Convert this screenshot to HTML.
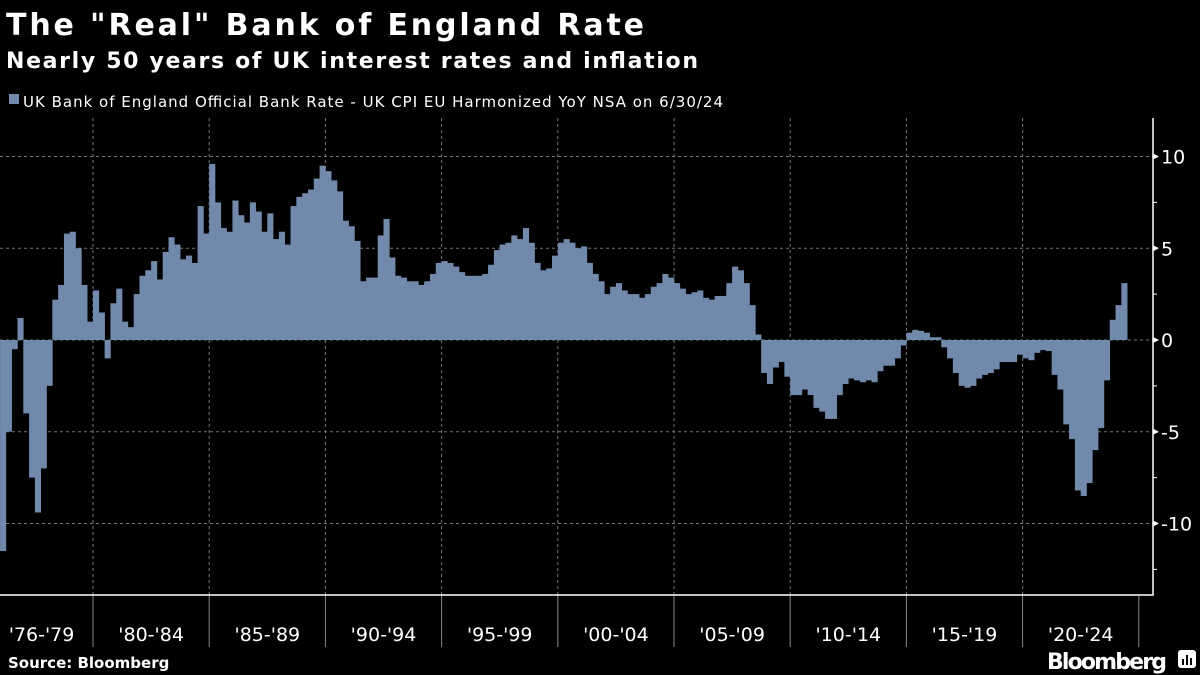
<!DOCTYPE html>
<html><head><meta charset="utf-8"><style>
html,body{margin:0;padding:0;background:#000;}
svg{display:block;}
text{font-family:"DejaVu Sans","Liberation Sans",sans-serif;fill:#fff;}
</style></head><body>
<svg id="chart" width="1200" height="675" viewBox="0 0 1200 675">
<text x="6" y="35" font-size="30" font-weight="bold" textLength="638">The "Real" Bank of England Rate</text>
<text x="6" y="68" font-size="22" font-weight="bold" textLength="692">Nearly 50 years of UK interest rates and inflation</text>
<rect x="9" y="94" width="10" height="10" fill="#7189ab"/>
<text x="23" y="107" font-size="15" fill="#ddd" textLength="700">UK Bank of England Official Bank Rate - UK CPI EU Harmonized YoY NSA on 6/30/24</text>
<g id="grid"></g>
<g id="bars"></g>
<g id="axes"></g>
<text x="8" y="668" font-size="15" font-weight="bold">Source: Bloomberg</text>
<text x="1047" y="669" font-size="22" font-weight="bold" textLength="120">Bloomberg</text>
<g><rect x="1178" y="650" width="18" height="18" rx="3" fill="#fff"/><rect x="1182" y="659" width="2" height="6" fill="#000"/><rect x="1186" y="655" width="2" height="10" fill="#000"/><rect x="1190" y="658" width="2" height="7" fill="#000"/></g>
</svg>
<script>
const startYear = 1976;
const quarterValues = [
-11.5,-5,-0.5,1.2,
-4,-7.5,-9.4,-7,
-2.5,2.2,3.0,5.8,
5.9,5,3,1,
2.7,1.5,-1,2.0,
2.8,1,0.7,2.5,
3.5,3.8,4.3,3.3,
4.8,5.6,5.2,4.4,
4.6,4.2,7.3,5.8,
9.6,7.5,6.1,5.9,
7.6,6.8,6.4,7.5,
7,5.9,6.9,5.5,
5.9,5.2,7.3,7.8,
8,8.2,8.8,9.5,
9.2,8.7,8.1,6.5,
6.2,5.4,3.2,3.4,
3.4,5.7,6.6,4.5,
3.5,3.4,3.2,3.2,
3,3.2,3.6,4.2,
4.3,4.2,4,3.7,
3.5,3.5,3.5,3.6,
4.1,4.9,5.2,5.3,
5.7,5.5,6.1,5.3,
4.2,3.8,3.9,4.6,
5.3,5.5,5.3,5,
5.1,4.2,3.6,3.2,
2.5,2.9,3.1,2.7,
2.5,2.5,2.3,2.5,
2.9,3.1,3.6,3.4,
3.1,2.8,2.5,2.6,
2.7,2.3,2.2,2.4,
2.4,3.1,4,3.8,
3.1,1.9,0.3,-1.8,
-2.4,-1.5,-1.2,-2,
-3,-3,-2.7,-3,
-3.7,-3.9,-4.3,-4.3,
-3,-2.4,-2.1,-2.2,
-2.3,-2.2,-2.3,-1.7,
-1.4,-1.4,-1,-0.3,
0.4,0.55,0.5,0.4,
0.15,0.15,-0.4,-1,
-1.8,-2.5,-2.6,-2.5,
-2.1,-1.9,-1.8,-1.6,
-1.2,-1.2,-1.2,-0.8,
-1,-1.1,-0.7,-0.55,
-0.6,-1.9,-2.7,-4.6,
-5.4,-8.2,-8.5,-7.8,
-6,-4.8,-2.2,1.1,
1.9,3.1
];
const yTicks = [10,5,0,-5,-10];
const yTickLabels = ["10","5","0","-5","-10"];
const xBinLabels = ["'76-'79","'80-'84","'85-'89","'90-'94","'95-'99","'00-'04","'05-'09","'10-'14","'15-'19","'20-'24"];
const xBinStarts = [1976,1980,1985,1990,1995,2000,2005,2010,2015,2020];

const NS="http://www.w3.org/2000/svg";
const pxPerYear = 23.24;
const xScale = yr => 93 + (yr-1980)*pxPerYear;
const yScale = v => 340 - v*18.35;
const plotTop=118, plotBottom=595, plotRight=1153;
function mk(tag, attrs, parent){const e=document.createElementNS(NS,tag);for(const k in attrs)e.setAttribute(k,attrs[k]);parent.appendChild(e);return e;}
const grid=document.getElementById('grid'), bars=document.getElementById('bars'), axes=document.getElementById('axes');

yTicks.forEach((t,i)=>{
  const y=yScale(t);
  const l=mk('line',{x1:0,x2:plotRight,y1:y,y2:y,stroke:'#777','stroke-dasharray':'3,3','stroke-width':1},grid);
  
  
  const tri=mk('path',{d:`M${plotRight} ${y-3}L${plotRight+6} ${y}L${plotRight} ${y+3}Z`,fill:'#fff'},axes);
  
  
  const tx=mk('text',{x:1161,y:y+7,'font-size':19},axes);
  tx.textContent=yTickLabels[i];
  
  
});
[7.5,2.5,-2.5,-7.5,-12.5].forEach(t=>{
  const y=yScale(t);
  const m=mk('line',{x1:plotRight,x2:plotRight+4,y1:y,y2:y,stroke:'#fff'},axes);
  
  
});
xBinStarts.forEach((yr,i)=>{
  const x=xScale(yr);
  if(yr>1976){
    const g=mk('line',{x1:x,x2:x,y1:plotTop,y2:plotBottom,stroke:'#777','stroke-dasharray':'3,3'},grid);
    
    
  }
  const end = i+1<xBinStarts.length? xBinStarts[i+1] : 2025;
  const s=mk('line',{x1:xScale(end),x2:xScale(end),y1:plotBottom,y2:647,stroke:'#888'},axes);
  
  
  const tx=mk('text',{x:(x+xScale(end))/2+(i==0?-5:0),y:641,'font-size':19,'text-anchor':'middle'},axes);
  tx.textContent=xBinLabels[i];
  
  
});
const qw=pxPerYear/4;
quarterValues.forEach((v,i)=>{
  const x=xScale(startYear+i/4);
  const y0=yScale(0), y1=yScale(v);
  const r=mk('rect',{x:x,y:Math.min(y0,y1),width:qw+0.3,height:Math.max(0.5,Math.abs(y1-y0)),fill:'#7189ab'},bars);
  
  
});
const ax=mk('path',{d:`M0 ${plotBottom}H${plotRight}V${plotTop}`,stroke:'#fff',fill:'none','stroke-width':1.5},axes);


</script>
</body></html>
